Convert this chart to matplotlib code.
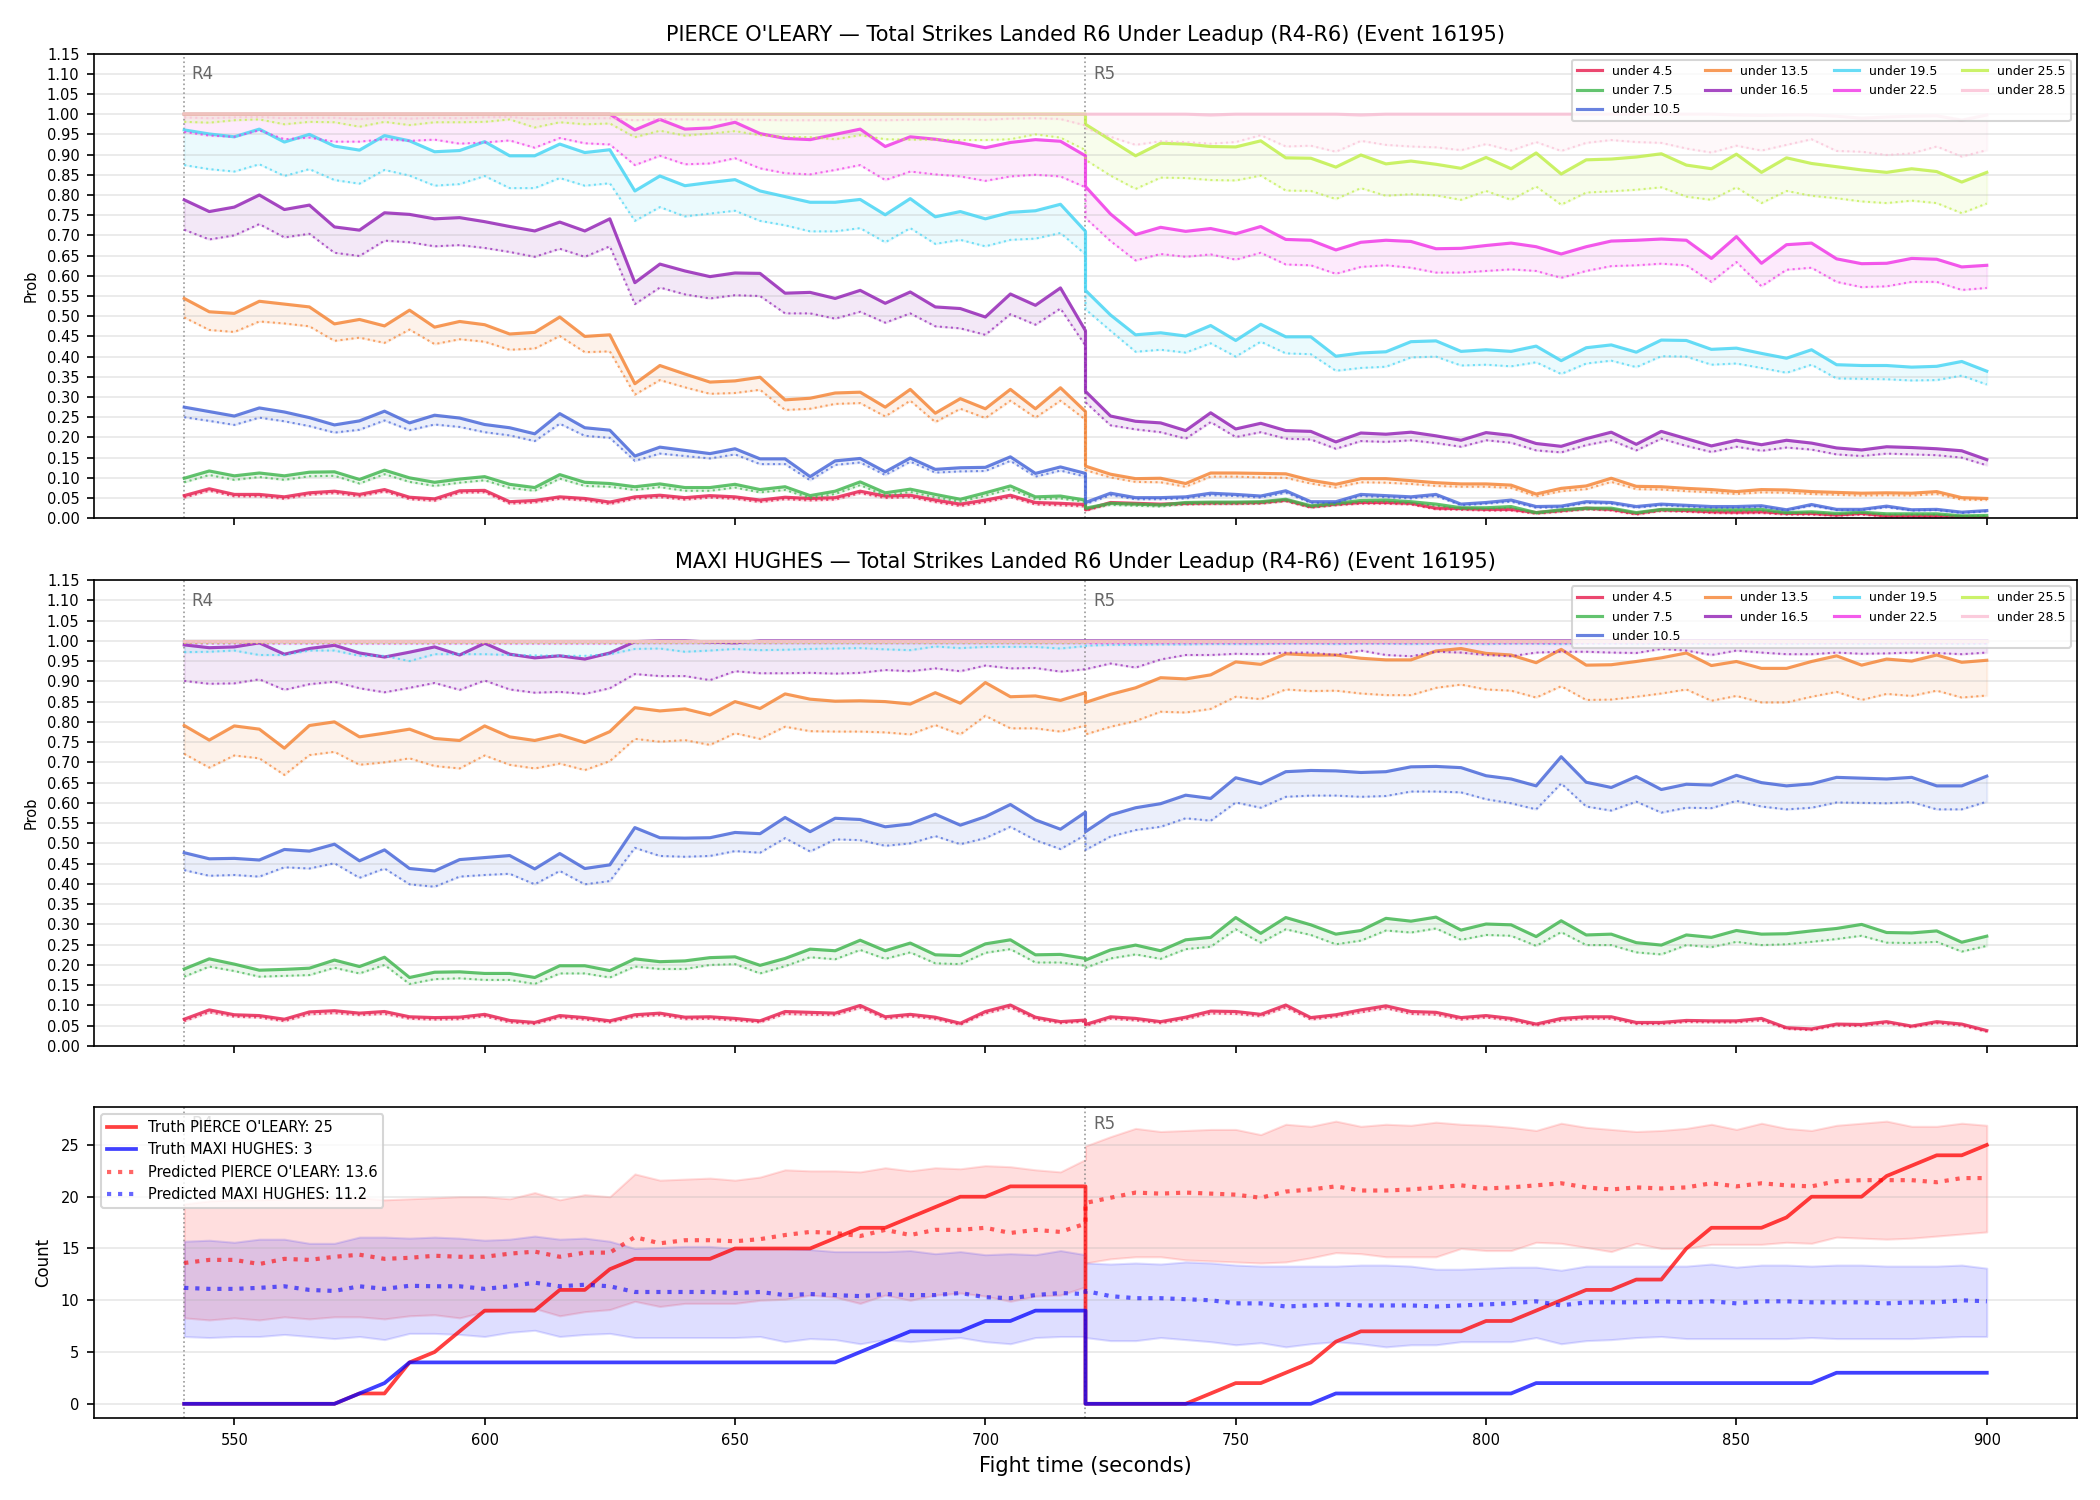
import matplotlib
matplotlib.use("Agg")
import matplotlib.pyplot as plt
from matplotlib.transforms import blended_transform_factory
from matplotlib.ticker import FormatStrFormatter

# ---------------- time axis (R4 then R5; 720 appears at the end of R4 and start of R5)
T_R4 = [540, 545, 550, 555, 560, 565, 570, 575, 580, 585, 590, 595, 600, 605, 610, 615, 620, 625, 630,
        635, 640, 645, 650, 655, 660, 665, 670, 675, 680, 685, 690, 695, 700, 705, 710, 715, 720]
T_R5 = [720, 725, 730, 735, 740, 745, 750, 755, 760, 765, 770, 775, 780, 785, 790, 795, 800, 805, 810,
        815, 820, 825, 830, 835, 840, 845, 850, 855, 860, 865, 870, 875, 880, 885, 890, 895, 900]

THRESH_LABELS = ["under 4.5", "under 7.5", "under 10.5", "under 13.5", "under 16.5",
                 "under 19.5", "under 22.5", "under 25.5", "under 28.5"]

# ---------------- PIERCE O'LEARY : solid (upper) and dotted (lower) probabilities
P_U45 = [.056,.073,.059,.059,.053,.063,.067,.059,.071,.052,.048,.068,.069,.041,.044,.053,.049,.040,.053,.057,
         .051,.056,.053,.045,.052,.049,.051,.067,.055,.057,.045,.035,.045,.057,.039,.037,.034,
         .021,.039,.037,.035,.037,.038,.038,.039,.045,.029,.035,.039,.039,.037,.025,.024,.022,.022,.014,.019,
         .025,.022,.012,.021,.019,.016,.015,.016,.012,.012,.008,.012,.006,.006,.006,.004,.002]
P_U45_LO = [.051,.068,.054,.054,.048,.058,.062,.054,.066,.047,.043,.063,.064,.036,.039,.048,.044,.035,.048,.052,
            .046,.051,.048,.040,.047,.044,.046,.062,.050,.052,.040,.030,.040,.052,.034,.032,.029,
            .018,.036,.034,.032,.034,.035,.035,.036,.042,.026,.032,.036,.036,.034,.022,.021,.019,.019,.011,.016,
            .022,.019,.009,.018,.016,.013,.012,.013,.009,.009,.006,.009,.004,.004,.004,.002,.001]
P_U75 = [.099,.117,.105,.112,.105,.114,.115,.096,.119,.100,.089,.097,.103,.084,.076,.108,.089,.086,.078,.085,
         .076,.076,.084,.071,.078,.056,.067,.090,.063,.072,.059,.047,.063,.080,.053,.055,.045,
         .025,.037,.035,.033,.039,.040,.040,.041,.047,.031,.037,.044,.045,.041,.035,.026,.026,.029,.014,.021,
         .025,.025,.014,.022,.022,.021,.021,.022,.014,.016,.012,.015,.011,.011,.011,.006,.007]
P_U75_LO = [.089,.107,.095,.102,.095,.104,.105,.086,.109,.090,.080,.088,.094,.075,.068,.098,.080,.078,.070,.077,
            .068,.068,.076,.064,.070,.050,.060,.082,.056,.065,.052,.041,.056,.072,.047,.049,.040,
            .022,.033,.031,.029,.035,.036,.036,.037,.043,.027,.033,.040,.041,.037,.031,.023,.023,.026,.012,.018,
            .022,.022,.012,.019,.019,.018,.018,.019,.012,.014,.010,.013,.009,.009,.009,.005,.006]
P_U105 = [.275,.264,.253,.273,.263,.249,.231,.241,.265,.236,.255,.248,.232,.224,.209,.259,.224,.218,.154,.176,
          .168,.160,.172,.147,.147,.103,.142,.148,.115,.149,.121,.125,.126,.152,.111,.127,.111,
          .039,.062,.051,.051,.053,.062,.059,.055,.068,.041,.041,.059,.056,.053,.059,.035,.039,.045,.029,.030,
          .041,.039,.029,.035,.032,.029,.029,.031,.021,.034,.022,.022,.030,.021,.022,.015,.019]
P_U105_LO = [.250,.241,.231,.249,.240,.228,.212,.219,.242,.218,.232,.226,.213,.205,.191,.234,.204,.199,.142,.160,
             .154,.148,.158,.134,.134,.094,.132,.138,.107,.140,.113,.116,.117,.142,.103,.118,.103,
             .035,.057,.047,.047,.049,.057,.055,.051,.063,.038,.038,.055,.052,.049,.055,.032,.036,.041,.026,.027,
             .038,.036,.026,.032,.029,.026,.026,.028,.019,.031,.020,.020,.027,.019,.020,.013,.017]
P_U135 = [.544,.511,.507,.537,.530,.523,.481,.492,.476,.515,.473,.487,.479,.456,.460,.498,.450,.454,.333,.378,
          .357,.337,.340,.349,.293,.297,.310,.312,.275,.319,.260,.296,.271,.319,.271,.323,.264,
          .129,.109,.098,.099,.086,.112,.112,.111,.110,.094,.084,.098,.098,.093,.088,.085,.085,.082,.060,.074,
          .080,.099,.079,.078,.074,.071,.066,.071,.070,.066,.064,.062,.063,.062,.066,.051,.049]
P_U135_LO = [.497,.466,.461,.487,.482,.475,.439,.447,.434,.467,.431,.443,.437,.417,.420,.451,.411,.413,.306,.342,
             .324,.308,.310,.318,.268,.271,.283,.285,.252,.291,.238,.271,.248,.291,.249,.291,.244,
             .119,.101,.090,.089,.078,.103,.103,.101,.100,.086,.076,.089,.088,.085,.080,.078,.078,.075,.054,.067,
             .072,.090,.072,.071,.067,.064,.060,.064,.063,.060,.058,.056,.057,.056,.060,.046,.045]
P_U165 = [.788,.759,.770,.800,.764,.775,.721,.713,.756,.752,.741,.744,.734,.722,.711,.733,.711,.741,.583,.629,
          .612,.598,.607,.606,.557,.559,.544,.564,.532,.560,.523,.519,.498,.555,.527,.570,.464,
          .314,.253,.240,.236,.217,.261,.221,.235,.217,.215,.189,.211,.208,.213,.204,.193,.212,.205,.185,.178,
          .197,.213,.183,.215,.197,.179,.193,.182,.193,.186,.174,.169,.177,.175,.172,.167,.145]
P_U165_LO = [.714,.690,.700,.728,.695,.704,.657,.649,.687,.683,.673,.676,.669,.659,.647,.667,.647,.673,.530,.571,
             .554,.544,.552,.550,.507,.507,.494,.511,.484,.507,.475,.470,.454,.505,.479,.519,.427,
             .287,.230,.220,.213,.197,.238,.201,.213,.197,.195,.172,.191,.189,.193,.186,.177,.193,.187,.168,.163,
             .181,.193,.168,.197,.179,.164,.177,.167,.175,.170,.158,.154,.160,.158,.156,.150,.131]
P_U195 = [.961,.951,.944,.963,.931,.950,.921,.911,.947,.934,.907,.910,.932,.897,.897,.926,.905,.912,.810,.847,
          .823,.831,.838,.810,.796,.782,.782,.789,.751,.791,.746,.759,.741,.757,.761,.777,.710,
          .564,.503,.454,.459,.451,.477,.440,.480,.449,.449,.401,.409,.412,.437,.439,.413,.417,.413,.426,.390,
          .422,.429,.411,.441,.440,.418,.421,.408,.396,.417,.380,.378,.378,.374,.376,.388,.364]
P_U195_LO = [.874,.864,.858,.876,.847,.864,.837,.828,.862,.848,.823,.827,.847,.817,.817,.842,.823,.829,.736,.770,
             .747,.754,.761,.736,.725,.710,.710,.718,.683,.718,.679,.689,.673,.689,.692,.706,.653,
             .517,.464,.412,.417,.410,.433,.400,.437,.408,.406,.365,.372,.375,.398,.400,.378,.380,.376,.386,.357,
             .383,.390,.374,.401,.400,.380,.383,.372,.360,.380,.346,.345,.344,.341,.342,.353,.331]
P_U225 = [1.0,1.0,1.0,1.0,1.0,1.0,1.0,1.0,1.0,1.0,1.0,1.0,1.0,1.0,1.0,1.0,1.0,1.0,.961,.987,
          .963,.966,.980,.952,.940,.937,.950,.963,.920,.944,.938,.929,.917,.930,.937,.933,.897,
          .821,.753,.702,.720,.710,.717,.704,.722,.690,.688,.664,.683,.688,.685,.667,.668,.675,.681,.672,.654,
          .672,.686,.688,.691,.688,.643,.697,.631,.677,.681,.642,.630,.631,.643,.641,.622,.626]
P_U225_LO = [.956,.947,.944,.960,.938,.942,.932,.932,.938,.934,.937,.927,.930,.935,.917,.941,.928,.925,.874,.897,
             .876,.878,.891,.866,.854,.851,.862,.874,.837,.858,.851,.846,.835,.846,.850,.846,.819,
             .743,.686,.638,.654,.647,.653,.640,.657,.628,.626,.605,.622,.626,.620,.608,.608,.612,.616,.612,.595,
             .612,.624,.626,.630,.626,.585,.634,.574,.615,.620,.585,.572,.574,.585,.585,.565,.570]
P_U255 = [1.0,1.0,1.0,1.0,1.0,1.0,1.0,1.0,1.0,1.0,1.0,1.0,1.0,1.0,1.0,1.0,1.0,1.0,1.0,1.0,
          1.0,1.0,1.0,1.0,1.0,1.0,1.0,1.0,1.0,1.0,1.0,1.0,1.0,1.0,1.0,1.0,1.0,
          .975,.936,.897,.928,.926,.920,.919,.934,.892,.891,.869,.899,.877,.884,.876,.866,.893,.865,.904,.852,
          .887,.889,.894,.902,.874,.865,.901,.856,.892,.878,.870,.862,.856,.865,.858,.832,.856]
P_U255_LO = [.981,.979,.985,.987,.975,.981,.980,.969,.981,.973,.980,.980,.981,.987,.967,.980,.975,.977,.943,.959,
             .947,.952,.958,.948,.944,.943,.938,.948,.938,.937,.937,.936,.936,.938,.950,.942,.911,
             .887,.848,.815,.843,.842,.837,.836,.848,.811,.810,.790,.817,.798,.802,.799,.788,.810,.788,.821,.776,
             .806,.809,.813,.819,.796,.788,.819,.780,.810,.798,.792,.784,.780,.786,.780,.755,.779]
P_U285 = [1.0,1.0,1.0,1.0,1.0,1.0,1.0,1.0,1.0,1.0,1.0,1.0,1.0,1.0,1.0,1.0,1.0,1.0,1.0,1.0,
          1.0,1.0,1.0,1.0,1.0,1.0,1.0,1.0,1.0,1.0,1.0,1.0,1.0,1.0,1.0,1.0,1.0,
          1.0,1.0,1.0,1.0,1.0,.998,1.0,1.0,1.0,1.0,1.0,.998,1.0,1.0,1.0,1.0,1.0,1.0,1.0,1.0,
          1.0,1.0,1.0,1.0,1.0,1.0,.998,.997,.998,.998,.995,.990,.993,.995,.996,.985,.998]
P_U285_LO = [.992,.990,.992,.993,.990,.991,.991,.988,.991,.989,.991,.990,.992,.993,.988,.991,.990,.990,.985,.988,
             .987,.986,.987,.986,.985,.985,.985,.986,.985,.986,.987,.988,.986,.989,.990,.988,.972,
             .965,.944,.924,.933,.931,.927,.931,.948,.920,.922,.907,.934,.924,.920,.918,.911,.926,.910,.931,.909,
             .929,.936,.931,.929,.915,.905,.922,.910,.924,.938,.909,.907,.899,.903,.920,.895,.911]

# ---------------- MAXI HUGHES
M_U45 = [.066,.089,.077,.075,.066,.084,.087,.081,.085,.072,.070,.071,.078,.063,.058,.075,.070,.062,.077,.081,
         .071,.072,.068,.062,.085,.083,.081,.100,.072,.078,.071,.056,.085,.101,.071,.060,.064,
         .053,.072,.068,.060,.071,.086,.085,.078,.101,.070,.077,.089,.099,.085,.083,.070,.075,.068,.054,.068,
         .072,.072,.058,.058,.063,.062,.062,.068,.045,.042,.054,.053,.060,.049,.060,.054,.038]
M_U45_LO = [.061,.083,.072,.070,.061,.078,.081,.076,.079,.067,.065,.066,.073,.058,.054,.070,.065,.058,.072,.076,
            .066,.067,.063,.058,.079,.077,.076,.094,.067,.073,.066,.052,.080,.095,.066,.056,.060,
            .049,.067,.063,.056,.066,.080,.079,.073,.095,.065,.072,.083,.093,.079,.077,.065,.070,.063,.050,.063,
            .067,.067,.054,.054,.059,.058,.058,.063,.042,.039,.050,.049,.056,.046,.056,.050,.035]
M_U75 = [.190,.215,.202,.187,.189,.192,.212,.196,.219,.169,.182,.183,.179,.179,.169,.198,.198,.186,.215,.208,
         .210,.218,.220,.199,.216,.239,.235,.261,.235,.254,.225,.223,.252,.262,.225,.226,.216,
         .212,.237,.249,.235,.262,.268,.317,.278,.317,.299,.276,.285,.315,.308,.318,.286,.301,.299,.270,.309,
         .274,.276,.255,.249,.274,.268,.285,.276,.277,.284,.290,.300,.280,.279,.284,.256,.271]
M_U75_LO = [.171,.196,.185,.171,.173,.175,.193,.179,.200,.153,.165,.167,.163,.163,.153,.179,.179,.169,.196,.190,
            .190,.200,.202,.179,.197,.219,.214,.237,.215,.231,.204,.202,.230,.239,.206,.206,.198,
            .193,.216,.226,.215,.239,.245,.288,.255,.288,.274,.251,.260,.285,.280,.290,.262,.274,.272,.247,.281,
            .249,.249,.231,.226,.249,.244,.257,.249,.251,.257,.264,.272,.255,.254,.257,.233,.247]
M_U105 = [.477,.462,.463,.459,.485,.481,.498,.457,.484,.438,.432,.460,.465,.470,.437,.475,.438,.447,.539,.514,
          .513,.514,.527,.524,.564,.529,.562,.559,.541,.548,.572,.545,.566,.596,.558,.535,.577,
          .529,.570,.588,.598,.619,.611,.662,.647,.677,.680,.679,.675,.677,.689,.690,.687,.667,.659,.642,.714,
          .651,.638,.665,.633,.646,.644,.668,.650,.642,.647,.663,.661,.659,.663,.642,.642,.666]
M_U105_LO = [.434,.420,.422,.418,.441,.438,.451,.415,.438,.399,.393,.418,.422,.425,.399,.432,.399,.407,.489,.469,
             .467,.469,.481,.477,.513,.480,.510,.508,.494,.500,.518,.498,.513,.541,.508,.486,.521,
             .484,.517,.533,.541,.562,.556,.601,.588,.615,.618,.618,.615,.617,.628,.628,.626,.609,.599,.584,.648,
             .591,.581,.603,.576,.588,.587,.605,.591,.584,.588,.601,.600,.599,.602,.584,.584,.603]
M_U135 = [.791,.755,.790,.782,.735,.791,.800,.763,.772,.782,.759,.754,.790,.763,.754,.768,.749,.776,.835,.827,
          .832,.817,.850,.833,.869,.856,.851,.852,.850,.844,.872,.846,.897,.862,.864,.853,.872,
          .848,.868,.884,.909,.906,.916,.948,.942,.968,.965,.965,.957,.953,.953,.975,.981,.969,.965,.946,.979,
          .940,.941,.949,.958,.970,.939,.949,.932,.932,.949,.963,.940,.955,.950,.965,.947,.952]
M_U135_LO = [.721,.687,.717,.710,.669,.718,.726,.694,.700,.710,.691,.685,.717,.694,.685,.697,.681,.703,.758,.751,
             .755,.743,.772,.758,.788,.777,.776,.776,.774,.769,.792,.769,.815,.784,.784,.776,.791,
             .769,.788,.802,.825,.823,.832,.862,.856,.880,.876,.877,.870,.866,.866,.884,.892,.880,.877,.860,.888,
             .854,.855,.862,.870,.880,.852,.864,.848,.848,.862,.874,.854,.869,.864,.877,.860,.865]
M_U165 = [.990,.983,.985,.995,.967,.981,.989,.970,.960,.972,.985,.965,.994,.967,.958,.963,.955,.970,.998,1.0,
          1.0,.997,.995,1.0,1.0,1.0,1.0,1.0,1.0,1.0,1.0,1.0,1.0,1.0,1.0,1.0,1.0,
          1.0,1.0,1.0,1.0,1.0,1.0,1.0,1.0,1.0,1.0,1.0,1.0,1.0,1.0,1.0,1.0,1.0,1.0,1.0,1.0,
          1.0,1.0,1.0,1.0,1.0,1.0,1.0,1.0,1.0,1.0,1.0,1.0,1.0,1.0,1.0,1.0,1.0]
M_U165_LO = [.901,.894,.895,.905,.879,.893,.899,.883,.873,.884,.896,.879,.902,.880,.872,.874,.869,.883,.918,.913,
             .913,.903,.925,.920,.920,.921,.919,.921,.928,.925,.932,.925,.939,.932,.933,.924,.930,
             .930,.944,.934,.954,.965,.965,.968,.967,.971,.971,.965,.976,.965,.962,.973,.971,.965,.962,.971,.973,
             .973,.971,.970,.980,.976,.965,.976,.971,.967,.967,.971,.968,.969,.971,.970,.967,.971]
M_U195 = [1.0,1.0,1.0,1.0,1.0,1.0,1.0,1.0,1.0,1.0,1.0,1.0,1.0,1.0,1.0,1.0,1.0,1.0,1.0,1.0,
          1.0,1.0,1.0,1.0,1.0,1.0,1.0,1.0,1.0,1.0,1.0,1.0,1.0,1.0,1.0,1.0,1.0,
          1.0,1.0,1.0,1.0,1.0,1.0,1.0,1.0,1.0,1.0,1.0,1.0,1.0,1.0,1.0,1.0,1.0,1.0,1.0,1.0,
          1.0,1.0,1.0,1.0,1.0,1.0,1.0,1.0,1.0,1.0,1.0,1.0,1.0,1.0,1.0,1.0,1.0]
M_U195_LO = [.972,.973,.976,.965,.965,.976,.976,.963,.963,.950,.967,.967,.967,.965,.964,.963,.963,.967,.980,.981,
             .973,.976,.980,.977,.978,.980,.981,.982,.979,.977,.986,.982,.985,.985,.985,.981,.987,
             .988,.990,.990,.991,.991,.992,.992,.992,.993,.993,.992,.993,.993,.992,.993,.993,.992,.993,.993,.992,
             .993,.993,.992,.993,.993,.992,.993,.993,.992,.993,.993,.992,.993,.993,.993,.992,.993]
M_U225 = M_U195
M_U225_LO = [.993,.993,.993,.993,.993,.993,.993,.993,.993,.993,.993,.993,.993,.993,.993,.993,.993,.993,.994,.994,
             .994,.994,.994,.994,.994,.994,.994,.994,.994,.994,.994,.994,.994,.994,.994,.994,.994,
             .994,.994,.994,.994,.994,.994,.994,.994,.994,.994,.994,.994,.994,.994,.994,.994,.994,.994,.994,.994,
             .994,.994,.994,.994,.994,.994,.994,.994,.994,.994,.994,.994,.994,.994,.994,.994,.994]
M_U255 = M_U195
M_U255_LO = [.995,.995,.995,.995,.995,.995,.995,.995,.995,.995,.995,.995,.995,.995,.995,.995,.995,.995,.995,.995,
             .995,.995,.995,.995,.995,.995,.995,.995,.995,.995,.995,.995,.995,.995,.995,.995,.995,
             .996,.996,.996,.996,.996,.996,.996,.996,.996,.996,.996,.996,.996,.996,.996,.996,.996,.996,.996,.996,
             .996,.996,.996,.996,.996,.996,.996,.996,.996,.996,.996,.996,.996,.996,.996,.996,.996]
M_U285 = M_U195
M_U285_LO = [.997,.997,.997,.997,.997,.997,.997,.997,.997,.997,.997,.997,.997,.997,.997,.997,.997,.997,.997,.997,
             .997,.997,.997,.997,.997,.997,.997,.997,.997,.997,.997,.997,.997,.997,.997,.997,.997,
             .998,.998,.998,.998,.998,.998,.998,.998,.998,.998,.998,.998,.998,.998,.998,.998,.998,.998,.998,.998,
             .998,.998,.998,.998,.998,.998,.998,.998,.998,.998,.998,.998,.998,.998,.998,.998,.998]

# ---------------- counts
TRUTH_P = [0,0,0,0,0,0,0,1,1,4,5,7,9,9,9,11,11,13,14,14,14,14,15,15,15,15,16,17,17,18,19,20,20,21,21,21,21,
           0,0,0,0,0,1,2,2,3,4,6,7,7,7,7,7,8,8,9,10,11,11,12,12,15,17,17,17,18,20,20,20,22,23,24,24,25]
TRUTH_M = [0,0,0,0,0,0,0,1,2,4,4,4,4,4,4,4,4,4,4,4,4,4,4,4,4,4,4,5,6,7,7,7,8,8,9,9,9,
           0,0,0,0,0,0,0,0,0,0,1,1,1,1,1,1,1,1,2,2,2,2,2,2,2,2,2,2,2,2,3,3,3,3,3,3,3]
PRED_P = [13.6,13.9,13.9,13.5,14.0,13.9,14.2,14.4,14.0,14.1,14.3,14.2,14.2,14.5,14.7,14.2,14.6,14.6,16.1,15.5,
          15.8,15.8,15.7,15.9,16.3,16.6,16.5,16.2,16.8,16.3,16.8,16.8,17.0,16.5,16.8,16.6,17.4,
          19.4,19.9,20.4,20.3,20.4,20.3,20.2,19.9,20.5,20.7,21.0,20.6,20.6,20.7,20.9,21.1,20.8,20.9,21.1,21.3,
          20.9,20.7,20.9,20.8,20.9,21.3,21.0,21.3,21.1,21.0,21.5,21.6,21.6,21.6,21.4,21.8,21.8]
PRED_P_HI = [19.3,19.6,19.7,19.7,19.8,19.9,19.8,19.9,19.7,19.8,19.9,20.0,20.0,19.8,20.4,19.7,20.2,20.0,22.2,21.6,
             21.7,21.8,21.6,21.9,22.6,22.5,22.5,22.4,22.8,22.5,22.8,22.7,23.0,22.9,22.6,22.4,23.6,
             24.9,25.8,26.6,26.3,26.4,26.5,26.5,26.0,27.0,26.8,27.3,26.8,27.0,26.9,27.2,27.0,26.9,26.7,26.4,27.1,
             26.7,26.5,26.3,26.4,26.6,27.0,26.5,27.1,26.6,26.4,26.9,27.1,27.3,26.8,26.8,27.1,26.9]
PRED_P_LO = [8.3,8.1,8.3,8.1,8.4,8.2,8.4,8.4,8.2,8.5,8.6,8.3,8.9,9.1,9.2,8.5,8.9,9.1,9.9,9.4,
             9.7,9.7,9.7,10.0,10.1,10.5,10.3,9.7,10.5,10.0,10.5,10.7,10.4,9.9,10.4,10.5,11.3,
             13.6,14.0,14.2,14.2,13.9,13.8,13.7,13.6,13.7,14.1,14.6,14.5,14.2,14.2,14.2,15.0,14.8,14.8,15.6,15.5,
             15.1,14.7,15.5,15.0,15.0,15.4,15.4,15.4,15.6,15.5,16.1,16.0,15.9,16.0,16.2,16.4,16.6]
PRED_M = [11.2,11.1,11.1,11.2,11.35,11.0,10.9,11.35,11.1,11.4,11.35,11.35,11.1,11.35,11.7,11.35,11.5,11.35,10.8,10.8,
          10.8,10.8,10.7,10.8,10.5,10.6,10.5,10.4,10.6,10.5,10.5,10.7,10.3,10.2,10.5,10.7,10.6,
          10.9,10.4,10.2,10.2,10.1,10.0,9.7,9.7,9.4,9.5,9.6,9.5,9.5,9.5,9.4,9.5,9.6,9.7,9.9,9.5,
          9.8,9.8,9.8,9.9,9.8,9.9,9.7,9.9,9.9,9.8,9.8,9.8,9.7,9.8,9.8,10.0,9.9]
PRED_M_HI = [15.7,15.8,15.6,15.9,15.9,15.5,15.5,16.1,16.1,16.0,16.1,16.0,15.8,15.9,16.2,15.9,16.0,15.7,15.0,15.1,
             15.2,15.2,15.0,15.0,15.0,14.9,14.7,14.7,14.7,14.8,14.5,14.7,14.4,14.5,14.4,14.8,14.4,
             13.6,13.5,13.6,13.5,13.7,13.6,13.4,13.3,13.3,13.3,13.3,13.4,13.4,13.3,13.0,13.0,13.1,13.2,13.2,12.9,
             13.3,13.3,13.3,13.3,13.3,13.5,13.2,13.4,13.4,13.3,13.4,13.4,13.3,13.3,13.3,13.4,13.1]
PRED_M_LO = [6.5,6.4,6.5,6.5,6.7,6.5,6.3,6.5,6.2,6.8,6.8,6.7,6.5,6.9,7.1,6.5,6.7,6.8,6.4,6.4,
             6.4,6.4,6.4,6.5,6.0,6.3,6.2,5.8,6.2,6.0,6.2,6.4,6.0,5.8,6.4,6.5,6.5,
             6.4,6.1,6.1,6.4,6.2,6.0,5.7,5.9,5.5,5.8,6.0,5.8,5.5,5.7,5.7,6.0,6.0,6.0,6.4,5.8,
             6.1,6.2,6.4,6.5,6.3,6.3,6.3,6.3,6.3,6.4,6.3,6.3,6.3,6.3,6.4,6.5,6.5]

LEGEND_LABELS = ["Truth PIERCE O'LEARY: 25", "Truth MAXI HUGHES: 3",
                 "Predicted PIERCE O'LEARY: 13.6", "Predicted MAXI HUGHES: 11.2"]
TITLES = ["PIERCE O'LEARY \u2014 Total Strikes Landed R6 Under Leadup (R4-R6) (Event 16195)",
          "MAXI HUGHES \u2014 Total Strikes Landed R6 Under Leadup (R4-R6) (Event 16195)"]
ROUND_STARTS = [540, 720]
ROUND_NAMES = ["R4", "R5"]
Y_TICKS = [0.00, 0.05, 0.10, 0.15, 0.20, 0.25, 0.30, 0.35, 0.40, 0.45, 0.50, 0.55,
           0.60, 0.65, 0.70, 0.75, 0.80, 0.85, 0.90, 0.95, 1.00, 1.05, 1.10, 1.15]

# ---------------- styles
COLORS = ['#e6194B', '#3cb44b', '#4363d8', '#f58231', '#911eb4',
          '#42d4f4', '#f032e6', '#bfef45', '#fabed4']

T = T_R4 + T_R5
P_HI = [P_U45, P_U75, P_U105, P_U135, P_U165, P_U195, P_U225, P_U255, P_U285]
P_LO = [P_U45_LO, P_U75_LO, P_U105_LO, P_U135_LO, P_U165_LO, P_U195_LO, P_U225_LO, P_U255_LO, P_U285_LO]
M_HI = [M_U45, M_U75, M_U105, M_U135, M_U165, M_U195, M_U225, M_U255, M_U285]
M_LO = [M_U45_LO, M_U75_LO, M_U105_LO, M_U135_LO, M_U165_LO, M_U195_LO, M_U225_LO, M_U255_LO, M_U285_LO]

fig = plt.figure(figsize=(14, 10), dpi=150)
ax1 = fig.add_axes([0.0448, 0.6545, 0.9442, 0.3098])
ax2 = fig.add_axes([0.0448, 0.3027, 0.9442, 0.3106], sharex=ax1)
ax3 = fig.add_axes([0.0448, 0.0547, 0.9442, 0.2073], sharex=ax1)


def round_marks(ax):
    tr = blended_transform_factory(ax.transData, ax.transAxes)
    for x, name in zip(ROUND_STARTS, ROUND_NAMES):
        ax.axvline(x, color='gray', ls=':', lw=0.8, alpha=0.8, zorder=1)
        ax.text(x + 1.5, 0.975, name, transform=tr, ha='left', va='top',
                fontsize=8, color='#666666')


def prob_panel(ax, his, los, title):
    for hi, lo, lab, c in zip(his, los, THRESH_LABELS, COLORS):
        ax.fill_between(T, lo, hi, color=c, alpha=0.1)
        ax.plot(T, hi, color=c, lw=1.5, alpha=0.8, label=lab)
        ax.plot(T, lo, color=c, lw=1.0, ls=':', alpha=0.7)
    ax.set_ylim(0, 1.15)
    ax.set_yticks(Y_TICKS)
    ax.yaxis.set_major_formatter(FormatStrFormatter('%.2f'))
    ax.set_ylabel('Prob', fontsize=7)
    ax.set_title(title, fontsize=10)
    ax.grid(axis='y', alpha=0.3)
    ax.tick_params(labelsize=7, labelbottom=False)
    round_marks(ax)
    ax.legend(loc='upper right', ncol=4, fontsize=6)


prob_panel(ax1, P_HI, P_LO, TITLES[0])
prob_panel(ax2, M_HI, M_LO, TITLES[1])

ax3.fill_between(T, PRED_P_LO, PRED_P_HI, color='red', alpha=0.13)
ax3.fill_between(T, PRED_M_LO, PRED_M_HI, color='blue', alpha=0.13)
ax3.plot(T, TRUTH_P, color='red', lw=1.8, alpha=0.75, label=LEGEND_LABELS[0])
ax3.plot(T, TRUTH_M, color='blue', lw=1.8, alpha=0.75, label=LEGEND_LABELS[1])
ax3.plot(T, PRED_P, color='red', lw=2.0, ls=':', alpha=0.6, label=LEGEND_LABELS[2])
ax3.plot(T, PRED_M, color='blue', lw=2.0, ls=':', alpha=0.6, label=LEGEND_LABELS[3])
ax3.set_ylabel('Count', fontsize=8)
ax3.set_xlabel('Fight time (seconds)', fontsize=10)
ax3.grid(axis='y', alpha=0.3)
ax3.tick_params(labelsize=7)
round_marks(ax3)
ax3.legend(loc='upper left', fontsize=7)

fig.savefig('out.png', dpi=150)
